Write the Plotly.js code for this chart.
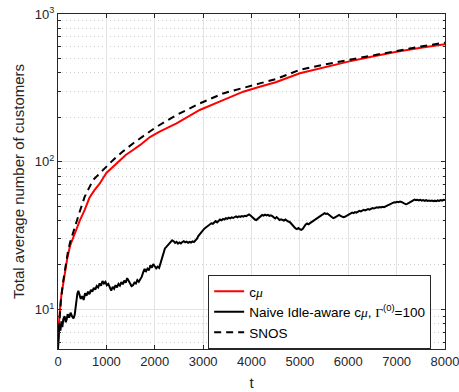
<!DOCTYPE html>
<html>
<head>
<meta charset="utf-8">
<script src="https://cdn.plot.ly/plotly-3.0.1.min.js"></script>
<style>html,body{margin:0;padding:0;background:#fff;}</style>
</head>
<body>
<div id="chart" style="width:459px;height:392px;"></div>
<script>
// c-mu policy (red)
var tCmu = [0, 20, 40, 70, 100, 140, 190, 250, 300, 380, 450, 550, 650, 750, 860, 1000, 1200, 1400, 1550, 1700, 1900, 2100, 2450, 2930, 3400, 3830, 4170, 4500, 5000, 5500, 6000, 6500, 7000, 7500, 8000];
var vCmu = [6.5, 8.5, 10, 12.5, 14.5, 18.4, 22, 27, 30, 34.5, 40, 47, 57, 64, 71, 84, 97, 111, 120, 130, 147, 160, 182, 224, 260, 298, 322, 345, 397, 437, 476, 516, 556, 590, 624];

// SNOS (dashed)
var tSnos = [0, 30, 60, 100, 150, 200, 250, 343, 450, 550, 722, 929, 1136, 1350, 1550, 1800, 2033, 2447, 2930, 3412, 3896, 4171, 4500, 5000, 5500, 6000, 6500, 7000, 7500, 8000];
var vSnos = [6.0, 9, 11.5, 15, 19.5, 24, 28.5, 36.2, 46, 57.8, 75, 87.7, 102.5, 118, 133, 152, 172, 207, 248, 290, 322, 339, 362, 419, 455, 489, 528, 565, 603, 640];

// Naive idle-aware c-mu (black)
var tNaive = [0, 15, 30, 50, 70, 90, 110, 137, 160, 180, 200, 230, 260, 290, 320, 345, 370, 400, 420, 445, 470, 500, 530, 560, 590, 620, 650, 680, 710, 740, 770, 800, 830, 860, 890, 920, 950, 980, 1010, 1040, 1070, 1100, 1130, 1160, 1190, 1220, 1250, 1280, 1310, 1340, 1370, 1400, 1430, 1460, 1490, 1520, 1550, 1580, 1610, 1640, 1670, 1700, 1730, 1760, 1790, 1820, 1850, 1880, 1910, 1940, 1970, 2000, 2030, 2060, 2090, 2120, 2150, 2180, 2210, 2240, 2270, 2300, 2330, 2360, 2390, 2420, 2450, 2480, 2510, 2540, 2570, 2600, 2630, 2660, 2690, 2720, 2750, 2780, 2810, 2840, 2870, 2900, 2930, 2960, 2990, 3020, 3050, 3080, 3110, 3140, 3170, 3200, 3230, 3260, 3290, 3320, 3350, 3380, 3410, 3440, 3470, 3500, 3530, 3560, 3590, 3620, 3650, 3680, 3710, 3740, 3770, 3800, 3830, 3860, 3890, 3920, 3950, 3980, 4010, 4040, 4070, 4100, 4130, 4160, 4190, 4220, 4250, 4280, 4310, 4340, 4370, 4400, 4430, 4460, 4490, 4520, 4550, 4580, 4610, 4640, 4670, 4700, 4730, 4760, 4790, 4820, 4850, 4880, 4910, 4940, 4970, 5000, 5030, 5060, 5090, 5120, 5150, 5180, 5210, 5240, 5270, 5300, 5330, 5360, 5390, 5420, 5450, 5480, 5510, 5540, 5570, 5600, 5630, 5660, 5690, 5720, 5750, 5780, 5810, 5840, 5870, 5900, 5930, 5960, 5990, 6020, 6050, 6080, 6110, 6140, 6170, 6200, 6230, 6260, 6290, 6320, 6350, 6380, 6410, 6440, 6470, 6500, 6530, 6560, 6590, 6620, 6650, 6680, 6710, 6740, 6770, 6800, 6830, 6860, 6890, 6920, 6950, 6980, 7010, 7040, 7070, 7100, 7130, 7160, 7190, 7220, 7250, 7280, 7310, 7340, 7370, 7400, 7430, 7460, 7490, 7520, 7550, 7580, 7610, 7640, 7670, 7700, 7730, 7760, 7790, 7820, 7850, 7880, 7910, 7940, 7970, 8000];
var vNaive = [5.4, 6.5, 7.8, 7.2, 8.3, 7.6, 8.6, 9.0, 8.2, 8.6, 9.3, 8.8, 9.5, 9.0, 8.7, 9.2, 11.0, 12.8, 13.4, 12.5, 11.8, 12.3, 11.6, 12.9, 12.4, 13.2, 12.7, 13.6, 13.2, 14.0, 13.6, 14.4, 14.1, 15.0, 14.5, 15.6, 15.0, 15.4, 14.6, 14.9, 14.0, 13.4, 14.2, 13.8, 14.6, 14.1, 14.9, 14.5, 15.3, 14.8, 15.7, 15.2, 16.3, 15.6, 14.9, 14.4, 14.6, 15.2, 15.0, 15.8, 15.4, 16.0, 16.6, 17.8, 18.8, 18.2, 18.9, 18.4, 19.9, 19.2, 20.3, 19.6, 19.0, 19.5, 19.1, 20.6, 22.5, 24.3, 25.9, 26.5, 27.2, 27.8, 28.9, 29.4, 29.0, 28.2, 28.7, 27.9, 28.4, 28.0, 28.6, 29.0, 28.5, 28.8, 28.3, 28.7, 28.4, 28.9, 28.6, 29.2, 30.0, 31.4, 32.3, 33.6, 34.6, 35.1, 35.7, 36.3, 36.9, 37.4, 38.3, 38.0, 39.1, 39.6, 38.9, 39.9, 40.6, 40.1, 41.0, 40.6, 41.5, 41.1, 41.8, 41.4, 42.0, 41.6, 42.2, 42.6, 42.1, 42.7, 42.3, 42.9, 42.5, 43.1, 42.8, 43.4, 44.0, 43.3, 42.2, 41.3, 40.6, 40.3, 41.2, 42.4, 43.1, 43.6, 43.2, 43.8, 43.3, 43.7, 43.0, 43.4, 42.8, 42.0, 41.3, 42.2, 41.0, 40.3, 40.8, 40.5, 40.0, 40.6, 39.8, 39.4, 39.1, 38.2, 37.0, 36.0, 35.4, 35.0, 35.6, 34.9, 34.6, 35.2, 36.5, 37.6, 38.2, 37.7, 38.4, 39.0, 39.6, 40.1, 40.7, 41.3, 42.2, 42.9, 43.5, 44.2, 44.8, 44.3, 44.6, 43.8, 43.0, 42.2, 41.5, 41.9, 42.5, 42.8, 43.6, 43.0, 42.6, 42.1, 42.4, 42.9, 43.5, 44.3, 44.9, 45.3, 44.9, 45.6, 45.2, 45.9, 46.5, 46.1, 46.8, 47.2, 46.8, 47.4, 47.8, 47.4, 48.0, 48.5, 48.2, 48.8, 49.2, 48.9, 49.4, 49.0, 49.6, 49.2, 49.8, 50.4, 51.0, 51.6, 52.2, 52.8, 53.2, 53.0, 53.6, 53.3, 53.8, 53.4, 52.8, 52.0, 51.5, 51.8, 52.6, 53.5, 54.4, 55.0, 55.4, 55.0, 55.3, 54.8, 55.2, 54.6, 55.0, 54.4, 54.9, 54.3, 54.7, 54.2, 54.6, 54.0, 54.5, 54.1, 54.7, 54.3, 55.0, 54.6, 55.2, 55.0];

var xTicks = [0, 1000, 2000, 3000, 4000, 5000, 6000, 7000, 8000];
var xTickText = ['0', '1000', '2000', '3000', '4000', '5000', '6000', '7000', '8000'];
var yTicks = [10, 100, 1000];
var yTickText = ['10<sup>1</sup>', '10<sup>2</sup>', '10<sup>3</sup>'];
var yMinor = [6, 7, 8, 9, 20, 30, 40, 50, 60, 70, 80, 90, 200, 300, 400, 500, 600, 700, 800, 900];

var names = [
  'c<i style="font-family:Liberation Serif">μ</i>',
  'Naive Idle-aware c<i style="font-family:Liberation Serif">μ</i>, <span style="font-family:Liberation Serif">Γ</span><sup>(0)</sup>=100',
  'SNOS'
];

var FONT = 'Liberation Sans, Arial, Helvetica, sans-serif';
var TXT = '#262626';

var traces = [
  {x: tCmu, y: vCmu, type: 'scatter', mode: 'lines', name: names[0],
   line: {color: '#ff0000', width: 2}},
  {x: tNaive, y: vNaive, type: 'scatter', mode: 'lines', name: names[1],
   line: {color: '#000000', width: 2}},
  {x: tSnos, y: vSnos, type: 'scatter', mode: 'lines', name: names[2],
   line: {color: '#000000', width: 2, dash: '7px,5px'}}
];

var layout = {
  width: 459, height: 392,
  margin: {l: 58, r: 14, t: 14, b: 43, pad: 0},
  paper_bgcolor: '#ffffff', plot_bgcolor: '#ffffff',
  font: {family: FONT, size: 13, color: TXT},
  showlegend: true,
  legend: {
    x: 0.388, y: 0.221, xanchor: 'left', yanchor: 'top',
    bgcolor: '#ffffff', bordercolor: TXT, borderwidth: 1,
    font: {family: FONT, size: 13.5, color: '#000'},
    tracegroupgap: 0
  },
  xaxis: {
    range: [0, 8000], tickmode: 'array', tickvals: xTicks, ticktext: xTickText,
    ticklabeloverflow: 'allow',
    showgrid: true, gridcolor: '#e3e3e3', gridwidth: 1,
    zeroline: false, showline: true, linecolor: TXT, linewidth: 1,
    mirror: 'ticks', ticks: 'inside', ticklen: 4, tickcolor: TXT,
    tickfont: {family: FONT, size: 13, color: TXT},
    title: {text: 't', font: {family: FONT, size: 15, color: TXT}, standoff: 9}
  },
  yaxis: {
    type: 'log', range: [Math.log10(5.4), 3],
    tickmode: 'array', tickvals: yTicks, ticktext: yTickText,
    showgrid: true, gridcolor: '#e3e3e3', gridwidth: 1,
    zeroline: false, showline: true, linecolor: TXT, linewidth: 1,
    mirror: 'ticks', ticks: 'inside', ticklen: 4, tickcolor: TXT,
    tickfont: {family: FONT, size: 13, color: TXT},
    minor: {tickmode: 'array', tickvals: yMinor, showgrid: true, griddash: '1px,3px',
            gridcolor: '#cfcfcf', gridwidth: 1, ticks: 'inside', ticklen: 2.5, tickcolor: TXT},
    title: {text: 'Total average number of customers', font: {family: FONT, size: 15, color: TXT}, standoff: 6}
  }
};

Plotly.newPlot('chart', traces, layout, {displayModeBar: false, staticPlot: true});
</script>
</body>
</html>
